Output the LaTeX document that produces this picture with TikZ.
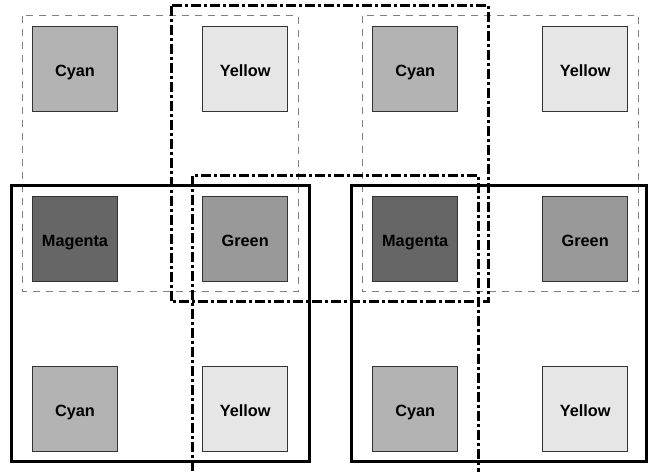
\documentclass[tikz,border=0pt]{standalone}
\usepackage{fontspec}
\setmainfont{Liberation Sans}
\definecolor{cyanfill}{HTML}{B3B3B3}
\definecolor{yellowfill}{HTML}{E6E6E6}
\definecolor{magentafill}{HTML}{666666}
\definecolor{greenfill}{HTML}{999999}
\definecolor{sqborder}{HTML}{333333}
\definecolor{dashgray}{HTML}{808080}
\begin{document}
\begin{tikzpicture}[x=1pt,y=-1pt,
  sq/.style={draw=sqborder,line width=1pt,minimum width=85pt,minimum height=85pt,inner sep=0pt,text height=14.6pt,text depth=0pt,font=\fontsize{16.3}{18}\selectfont\bfseries},
  cy/.style={sq,fill=cyanfill},
  ye/.style={sq,fill=yellowfill},
  ma/.style={sq,fill=magentafill},
  gr/.style={sq,fill=greenfill},
  grpdash/.style={draw=dashgray,line width=1pt,dash pattern=on 7pt off 6pt},
  grpsolid/.style={draw=black,line width=3pt},
  grpdashdot/.style={draw=black,line width=3pt,dash pattern=on 10pt off 3pt on 3pt off 3pt}]
\useasboundingbox (0,0) rectangle (652,471);
% squares
\node[cy] (c11) at (75,68.7) {Cyan};
\node[ye] (y12) at (245.2,68.7) {Yellow};
\node[cy] (c13) at (415.2,68.7) {Cyan};
\node[ye] (y14) at (585.2,68.7) {Yellow};
\node[ma] (m21) at (75,239) {Magenta};
\node[gr] (g22) at (245.2,239) {Green};
\node[ma] (m23) at (415.2,239) {Magenta};
\node[gr] (g24) at (585.2,239) {Green};
\node[cy] (c31) at (75,409) {Cyan};
\node[ye] (y32) at (245.2,409) {Yellow};
\node[cy] (c33) at (415.2,409) {Cyan};
\node[ye] (y34) at (585.2,409) {Yellow};
% group outlines
\draw[grpdash] (22.7,15.7) rectangle (298,291.7);
\draw[grpdash] (362.3,15.7) rectangle (638,291.7);
\draw[grpsolid] (11.7,185.7) rectangle (309,461);
\draw[grpsolid] (351.3,185.7) rectangle (646.5,461);
\draw[grpdashdot] (171,5.7) rectangle (488.7,301.7);
\draw[grpdashdot] (192.3,490) -- (192.3,175.7) -- (478.7,175.7) -- (478.7,490);
\end{tikzpicture}
\end{document}
